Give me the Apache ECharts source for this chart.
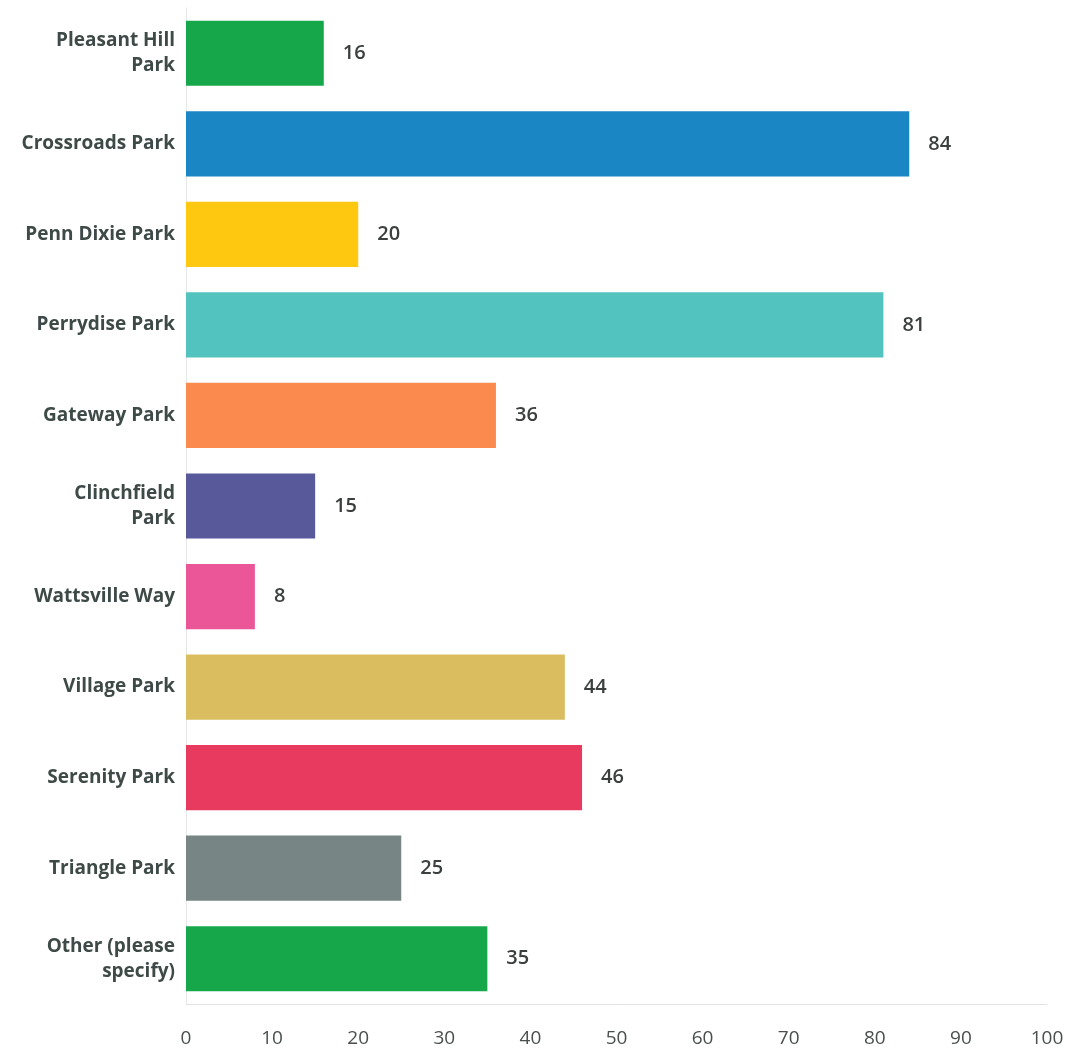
<!DOCTYPE html>
<html>
<head>
<meta charset="utf-8">
<script src="https://cdn.jsdelivr.net/npm/echarts@6/dist/echarts.min.js"></script>
<style>
html,body{margin:0;padding:0;background:#fff;}
#chart{width:1065px;height:1049px;}
</style>
</head>
<body>
<div id="chart"></div>
<script>
const categories = ["Pleasant Hill\nPark", "Crossroads Park", "Penn Dixie Park", "Perrydise Park", "Gateway Park", "Clinchfield\nPark", "Wattsville Way", "Village Park", "Serenity Park", "Triangle Park", "Other (please\nspecify)"];
const values = [16, 84, 20, 81, 36, 15, 8, 44, 46, 25, 35];
const barColors = ["#17a74b", "#1a86c4", "#fdc80f", "#53c3c0", "#fb8a4f", "#58599b", "#ea5698", "#d9bd5e", "#e83a5f", "#778584", "#17a74b"];
const xTicks = [0, 10, 20, 30, 40, 50, 60, 70, 80, 90, 100];

const chart = echarts.init(document.getElementById('chart'), null, {renderer: 'canvas'});
chart.setOption({
  animation: false,
  backgroundColor: '#ffffff',
  grid: {left: 186, right: 18, top: 8, bottom: 45, containLabel: false, outerBoundsMode: 'none'},
  xAxis: {
    type: 'value', min: xTicks[0], max: xTicks[xTicks.length - 1], interval: 10,
    splitLine: {show: false},
    axisLine: {show: true, lineStyle: {color: '#e2e4e4', width: 1}},
    axisTick: {show: false},
    axisLabel: {margin: 25, fontSize: 19, color: '#4a4f4e', fontFamily: 'Open Sans', fontWeight: 500}
  },
  yAxis: {
    type: 'category', data: categories, inverse: true,
    axisLine: {show: true, lineStyle: {color: '#e6e8e8', width: 1}},
    axisTick: {show: false},
    axisLabel: {margin: 11, fontSize: 19, lineHeight: 25, color: '#3e4a47', fontWeight: 'bold', fontFamily: 'Open Sans', align: 'right'}
  },
  series: [{
    type: 'bar',
    data: values.map((v, i) => ({value: v, itemStyle: {color: barColors[i]}})),
    barCategoryGap: '28%',
    label: {show: true, position: 'right', distance: 19, fontSize: 20, color: '#3b3f3e', fontFamily: 'Open Sans', fontWeight: 600}
  }]
});
</script>
</body>
</html>
